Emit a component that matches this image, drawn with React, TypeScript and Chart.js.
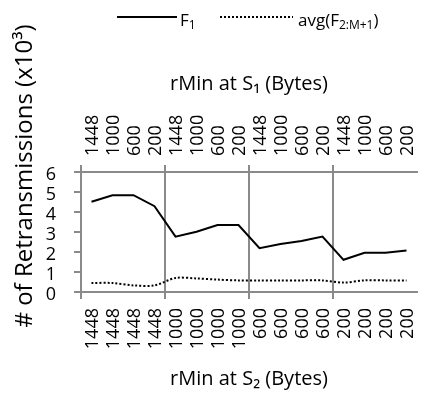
import React, { useEffect, useRef } from 'react';
import { Chart, registerables } from 'chart.js';

Chart.register(...registerables);

// ---- data ----
const bottomLabels = ['1448', '1448', '1448', '1448', '1000', '1000', '1000', '1000', '600', '600', '600', '600', '200', '200', '200', '200'];
const topLabels = ['1448', '1000', '600', '200', '1448', '1000', '600', '200', '1448', '1000', '600', '200', '1448', '1000', '600', '200'];
const f1Values = [4.51, 4.84, 4.84, 4.29, 2.77, 3.01, 3.35, 3.35, 2.19, 2.4, 2.55, 2.77, 1.61, 1.96, 1.96, 2.07];
const avgValues = [0.45, 0.45, 0.33, 0.33, 0.7, 0.68, 0.62, 0.58, 0.58, 0.58, 0.58, 0.58, 0.47, 0.58, 0.58, 0.58];
const yMin = 0;
const yMax = 6;
const yStep = 1;

const GRID = '#8a8a8a';
const FONT = "'Open Sans', sans-serif";
const W = 422;
const H = 395;
const TICK_SIZE = 18;

const groupColor = (ctx: any) => (ctx.index % 4 === 0 ? GRID : 'rgba(0,0,0,0)');

const textPlugin = {
  id: 'customText',
  afterDraw(chart: any) {
    const ctx = chart.ctx as CanvasRenderingContext2D;
    ctx.save();
    ctx.fillStyle = '#000';
    ctx.strokeStyle = '#000';
    // y axis title
    ctx.save();
    ctx.translate(25, 176);
    ctx.rotate(-Math.PI / 2);
    ctx.font = `24px ${FONT}`;
    ctx.textAlign = 'center';
    ctx.textBaseline = 'middle';
    ctx.fillText('# of Retransmissions (x10³)', 0, 0);
    ctx.restore();

    // legend
    const ly = 17;
    ctx.lineWidth = 2;
    ctx.setLineDash([]);
    ctx.beginPath();
    ctx.moveTo(117, ly);
    ctx.lineTo(177, ly);
    ctx.stroke();
    ctx.setLineDash([2, 2]);
    ctx.beginPath();
    ctx.moveTo(220, ly);
    ctx.lineTo(293, ly);
    ctx.stroke();
    ctx.setLineDash([]);

    ctx.textAlign = 'left';
    ctx.textBaseline = 'alphabetic';
    const big = `17px ${FONT}`;
    const small = `12px ${FONT}`;
    let x = 180;
    ctx.font = big;
    ctx.fillText('F', x, 26);
    x += ctx.measureText('F').width;
    ctx.font = small;
    ctx.fillText('1', x, 29);

    x = 298;
    ctx.font = big;
    ctx.fillText('avg(F', x, 26);
    x += ctx.measureText('avg(F').width;
    ctx.font = small;
    ctx.fillText('2:M+1', x, 29);
    x += ctx.measureText('2:M+1').width;
    ctx.font = big;
    ctx.fillText(')', x, 26);
    ctx.restore();
  },
};

const zeroPad = (s: any) => {
  s.paddingLeft = 0;
  s.paddingRight = 0;
};

export default function App() {
  const ref = useRef<HTMLCanvasElement>(null);

  useEffect(() => {
    if (!ref.current) return;
    const tickFont = { family: FONT, size: TICK_SIZE };
    const chart = new Chart(ref.current, {
      type: 'line',
      data: {
        labels: bottomLabels,
        datasets: [
          {
            label: 'F1',
            data: f1Values,
            borderColor: '#000',
            borderWidth: 2,
            pointRadius: 0,
            tension: 0,
            fill: false,
            xAxisID: 'x',
            yAxisID: 'y',
          },
          {
            label: 'avg(F2:M+1)',
            data: avgValues,
            borderColor: '#000',
            borderWidth: 2,
            borderDash: [2, 2],
            pointRadius: 0,
            tension: 0.3,
            fill: false,
            xAxisID: 'x',
            yAxisID: 'y',
          },
        ],
      },
      options: {
        responsive: false,
        animation: false,
        layout: { padding: { top: 60, bottom: 0, left: 0, right: 5 } },
        plugins: {
          legend: { display: false },
          tooltip: { enabled: false },
        },
        scales: {
          x: {
            type: 'category',
            position: 'bottom',
            offset: true,
            grid: {
              offset: true,
              drawOnChartArea: true,
              color: groupColor,
              tickColor: groupColor,
              lineWidth: 2,
              tickLength: 7,
            },
            border: { color: GRID, width: 2 },
            ticks: { minRotation: 90, maxRotation: 90, autoSkip: false, padding: 9, labelOffset: 1, color: '#000', font: tickFont },
            title: {
              display: true,
              text: 'rMin at S₂ (Bytes)',
              color: '#000',
              font: { family: FONT, size: 20 },
              padding: { top: 0, bottom: 4 },
            },
            afterFit: (s: any) => {
              s.height = H - 292;
              zeroPad(s);
            },
          },
          x2: {
            type: 'category',
            position: 'top',
            labels: topLabels,
            offset: true,
            grid: {
              offset: true,
              drawOnChartArea: false,
              color: groupColor,
              tickColor: groupColor,
              lineWidth: 2,
              tickLength: 7,
            },
            border: { color: GRID, width: 2 },
            ticks: {
              minRotation: 90,
              maxRotation: 90,
              autoSkip: false,
              padding: 9,
              labelOffset: TICK_SIZE * 1.2 + 1,
              color: '#000',
              font: tickFont,
            },
            title: {
              display: true,
              text: 'rMin at S₁ (Bytes)',
              color: '#000',
              font: { family: FONT, size: 20 },
              padding: { top: 12, bottom: 0 },
            },
            afterFit: (s: any) => {
              s.height = 172 - 60;
              zeroPad(s);
            },
          },
          y: {
            type: 'linear',
            min: yMin,
            max: yMax,
            ticks: { stepSize: yStep, autoSkip: false, padding: 18, labelOffset: 3, color: '#000', font: tickFont },
            grid: { drawOnChartArea: false, color: GRID, lineWidth: 2, tickLength: 7 },
            border: { color: GRID, width: 2 },
            afterFit: (s: any) => {
              s.width = 81;
              s.paddingTop = 0;
              s.paddingBottom = 0;
            },
          },
        },
      } as any,
      plugins: [textPlugin],
    });
    return () => chart.destroy();
  }, []);

  return (
    <div style={{ position: 'absolute', left: 0, top: 0, width: W, height: H }}>
      <canvas ref={ref} width={W} height={H} style={{ width: W, height: H, display: 'block' }} />
    </div>
  );
}
